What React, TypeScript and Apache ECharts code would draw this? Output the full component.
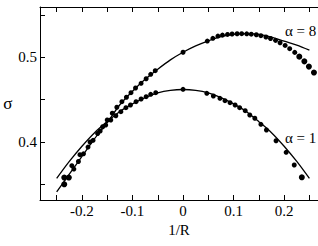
import React, { useEffect, useRef } from "react";
import * as echarts from "echarts";

// Theory curves (solid lines), sampled along 1/R
const curveX = [-0.25, -0.225, -0.2, -0.175, -0.15, -0.125, -0.1, -0.075, -0.05, -0.025, 0, 0.025, 0.05, 0.075, 0.1, 0.125, 0.15, 0.175, 0.2, 0.225, 0.25];
const alpha8Curve = [0.341, 0.362, 0.383, 0.404, 0.423, 0.444, 0.46, 0.474, 0.486, 0.497, 0.506, 0.5135, 0.5195, 0.5245, 0.5272, 0.528, 0.5272, 0.5238, 0.519, 0.5145, 0.5085];
const alpha1Curve = [0.357, 0.377, 0.395, 0.411, 0.424, 0.436, 0.445, 0.4525, 0.458, 0.461, 0.462, 0.461, 0.458, 0.4525, 0.445, 0.436, 0.424, 0.411, 0.395, 0.377, 0.357];

// Simulation points (dots)
const alpha8DotX = [-0.235, -0.226, -0.216, -0.207, -0.197, -0.188, -0.178, -0.169, -0.159, -0.15, -0.14, -0.131, -0.121, -0.112, -0.103, -0.094, -0.083, -0.073, -0.064, -0.055, 0, 0.048, 0.059, 0.069, 0.078, 0.088, 0.097, 0.107, 0.116, 0.126, 0.135, 0.145, 0.154, 0.164, 0.173, 0.183, 0.192, 0.202, 0.211, 0.221, 0.23, 0.24, 0.249, 0.259, 0.268];
const alpha8DotY = [0.35, 0.358, 0.368, 0.377, 0.386, 0.394, 0.402, 0.41, 0.418, 0.426, 0.434, 0.441, 0.4476, 0.4528, 0.4582, 0.4638, 0.4693, 0.4747, 0.4799, 0.4842, 0.506, 0.5192, 0.5224, 0.5251, 0.5262, 0.527, 0.5275, 0.5278, 0.5279, 0.5277, 0.5273, 0.5266, 0.5255, 0.524, 0.5222, 0.52, 0.5172, 0.514, 0.5102, 0.5058, 0.5008, 0.4952, 0.489, 0.482, 0.4745];
const alpha1DotX = [-0.235, -0.22, -0.204, -0.184, -0.164, -0.153, -0.143, -0.133, -0.123, -0.113, -0.104, -0.093, -0.083, -0.073, -0.064, -0.054, 0, 0.047, 0.06, 0.073, 0.083, 0.093, 0.103, 0.112, 0.123, 0.132, 0.142, 0.154, 0.165, 0.184, 0.204, 0.22, 0.235];
const alpha1DotY = [0.358, 0.372, 0.385, 0.4, 0.413, 0.42, 0.426, 0.431, 0.4358, 0.4405, 0.4437, 0.4476, 0.4508, 0.4535, 0.4563, 0.4582, 0.4622, 0.4575, 0.4543, 0.4516, 0.4488, 0.4464, 0.4437, 0.4405, 0.437, 0.4319, 0.428, 0.4209, 0.4142, 0.4015, 0.3878, 0.3728, 0.3583];

const xTicks = [-0.25, -0.2, -0.15, -0.1, -0.05, 0, 0.05, 0.1, 0.15, 0.2, 0.25];
const xLabels = [-0.2, -0.1, 0, 0.1, 0.2];
const yTicks = [0.35, 0.4, 0.45, 0.5, 0.55];
const yLabels = [0.4, 0.5];
const seriesLabels = ["α = 8", "α = 1"];

const FONT = "Liberation Serif";

export default function App() {
  const ref = useRef<HTMLDivElement>(null);
  useEffect(() => {
    const chart = echarts.init(ref.current!, null, { renderer: "svg" });
    const pair = (xs: number[], ys: number[]) => xs.map((x, i) => [x, ys[i]]);
    const axisCommon = {
      type: "value",
      min: -0.283,
      max: 0.267,
      splitLine: { show: false },
      axisLine: { show: true, onZero: false, lineStyle: { color: "#000", width: 1 } },
      axisTick: { show: true, inside: true, length: 5, customValues: xTicks, lineStyle: { color: "#000" } },
    };
    const dotSize = (v: number[]) => (Math.abs(v[0]) > 0.225 ? 6 : 5);
    chart.setOption({
      animation: false,
      backgroundColor: "#fff",
      textStyle: { fontFamily: FONT },
      grid: { left: 40, top: 7, right: 0, bottom: 46 },
      xAxis: [
        {
          ...axisCommon,
          position: "bottom",
          name: "1/R",
          nameLocation: "middle",
          nameGap: 22,
          nameTextStyle: { fontFamily: FONT, fontSize: 15, color: "#000" },
          axisLabel: { customValues: xLabels, margin: 3, fontFamily: FONT, fontSize: 15, color: "#000" },
        },
        {
          ...axisCommon,
          position: "top",
          axisLabel: { show: false },
        },
      ],
      yAxis: {
        type: "value",
        min: 0.3315,
        max: 0.5594,
        splitLine: { show: false },
        name: "σ",
        nameLocation: "middle",
        nameRotate: 0,
        nameGap: 26,
        nameTextStyle: { fontFamily: FONT, fontSize: 17, color: "#000" },
        axisLine: { show: true, onZero: false, lineStyle: { color: "#000", width: 1 } },
        axisTick: { show: true, inside: true, length: 5, customValues: yTicks, lineStyle: { color: "#000" } },
        axisLabel: { customValues: yLabels, margin: 3, fontFamily: FONT, fontSize: 15, color: "#000" },
      },
      graphic: [
        { type: "text", left: 285, top: 23, style: { text: seriesLabels[0], font: "15px Liberation Serif", fill: "#000" } },
        { type: "text", left: 285, top: 130, style: { text: seriesLabels[1], font: "15px Liberation Serif", fill: "#000" } },
      ],
      series: [
        { type: "line", data: pair(curveX, alpha8Curve), smooth: 0.3, showSymbol: false, lineStyle: { color: "#000", width: 1.3 } },
        { type: "line", data: pair(curveX, alpha1Curve), smooth: 0.3, showSymbol: false, lineStyle: { color: "#000", width: 1.3 } },
        { type: "scatter", data: pair(alpha8DotX, alpha8DotY), symbolSize: dotSize, itemStyle: { color: "#000", opacity: 1 } },
        { type: "scatter", data: pair(alpha1DotX, alpha1DotY), symbolSize: dotSize, itemStyle: { color: "#000", opacity: 1 } },
      ],
    });
    return () => chart.dispose();
  }, []);
  return <div ref={ref} style={{ position: "fixed", left: 0, top: 0, width: 318, height: 246 }} />;
}
